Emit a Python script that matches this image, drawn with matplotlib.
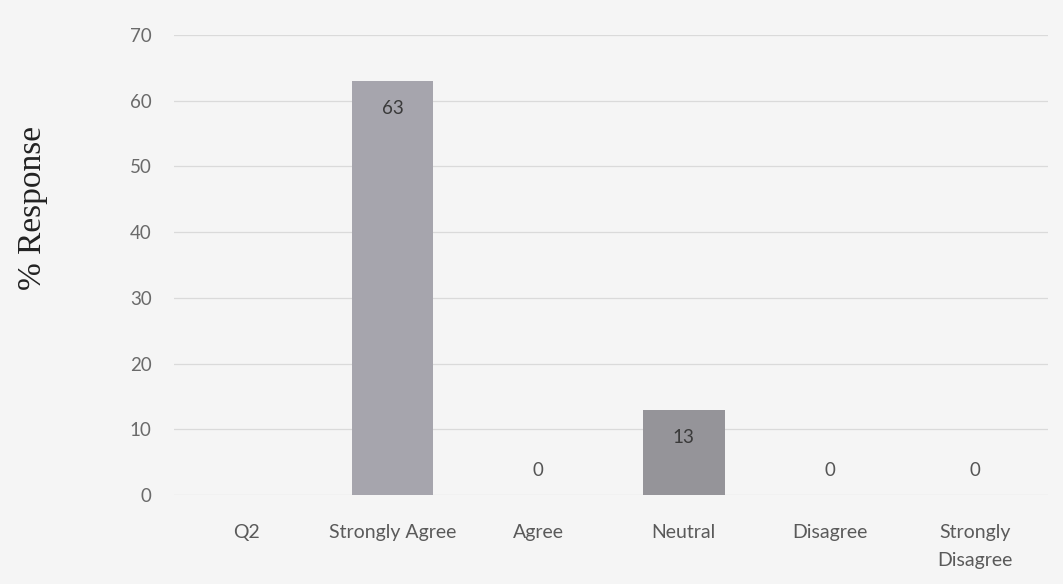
import matplotlib
matplotlib.use("Agg")
import matplotlib.pyplot as plt

categories = ["Q2", "Strongly Agree", "Agree", "Neutral", "Disagree", "Strongly\nDisagree"]
values = [None, 63, 0, 13, 0, 0]
bar_colors = [None, "#a6a5ad", None, "#959499", None, None]
yticks = [0, 10, 20, 30, 40, 50, 60, 70]

W, H = 1063, 584
fig = plt.figure(figsize=(W / 100, H / 100), dpi=100)
bg = "#f5f5f5"
fig.patch.set_facecolor(bg)

left, right = 174 / W, 1048 / W
bottom, top = (H - 495) / H, (H - 35) / H
ax = fig.add_axes([left, bottom, right - left, top - bottom])
ax.set_facecolor(bg)

tick_font = "Lato"
xs = list(range(len(categories)))
for x, v, c in zip(xs, values, bar_colors):
    if v is None:
        continue
    if v > 0:
        ax.bar(x, v, width=0.56, color=c, zorder=3)
        ax.annotate(str(v), (x, v), xytext=(0, -20), textcoords="offset points",
                    ha="center", va="center", fontsize=13.5, color="#3a3a3a",
                    family=tick_font, zorder=4)
    else:
        ax.annotate(str(v), (x, v), xytext=(0, 18), textcoords="offset points",
                    ha="center", va="center", fontsize=13.5, color="#555555",
                    family=tick_font, zorder=4)

ax.set_xlim(-0.5, 5.5)
ax.set_ylim(0, 70)
ax.set_yticks(yticks)
ax.set_yticklabels([str(t) for t in yticks], family=tick_font, fontsize=13.5, color="#6a6a6a")
ax.set_xticks(xs)
ax.set_xticklabels(categories, family=tick_font, fontsize=14, color="#5a5a5a", linespacing=1.8,
                   va="top")
ax.tick_params(axis="both", length=0)
ax.tick_params(axis="x", pad=21)
ax.tick_params(axis="y", pad=16)
ax.grid(axis="y", color="#dadada", linewidth=0.9, zorder=0)
for s in ax.spines.values():
    s.set_visible(False)

fig.text(33 / W, (H - 208) / H, "% Response", family="Liberation Serif", fontsize=24,
         color="#222222", rotation=90, ha="center", va="center")

fig.savefig("out.png", dpi=100, facecolor=fig.get_facecolor())
